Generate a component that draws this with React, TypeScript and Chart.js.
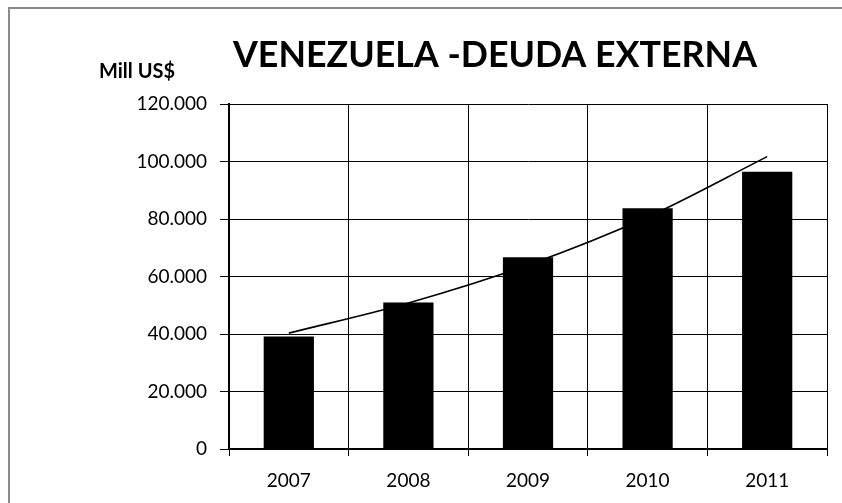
import React, { useEffect, useRef } from "react";
import { Chart, registerables } from "chart.js";

Chart.register(...registerables);

const years = ["2007", "2008", "2009", "2010", "2011"];
const debtValues = [39100, 51000, 66700, 83700, 96400];
const trendValues = [40300, 50800, 64000, 80700, 101700];
const yTicks = [0, 20000, 40000, 60000, 80000, 100000, 120000];
const titleText = "VENEZUELA -DEUDA EXTERNA";
const unitText = "Mill US$";

const fmt = (v: number) =>
  String(Math.round(v)).replace(/\B(?=(\d{3})+(?!\d))/g, ".");

const textPlugin = {
  id: "textPlugin",
  afterDraw(chart: any) {
    const ctx = chart.ctx;
    ctx.save();
    ctx.fillStyle = "#000";
    ctx.textBaseline = "alphabetic";
    ctx.font = "bold 36px Lato";
    ctx.textAlign = "center";
    ctx.fillText(titleText, 485, 57, 524);
    ctx.font = "bold 20px Lato";
    ctx.textAlign = "left";
    ctx.fillText(unitText, 89, 68);
    ctx.restore();
  },
};

export default function App() {
  const ref = useRef<HTMLCanvasElement>(null);
  useEffect(() => {
    document.body.style.overflow = "hidden";
    document.documentElement.style.overflow = "hidden";
    if (!ref.current) return;
    const chart = new Chart(ref.current, {
      type: "bar",
      data: {
        labels: years,
        datasets: [
          {
            type: "line",
            data: trendValues,
            borderColor: "#000",
            borderWidth: 1.6,
            pointRadius: 0,
            fill: false,
            cubicInterpolationMode: "monotone",
            order: 1,
          } as any,
          {
            type: "bar",
            data: debtValues,
            backgroundColor: "#000",
            borderWidth: 0,
            barPercentage: 0.42,
            categoryPercentage: 1,
            order: 2,
          },
        ],
      },
      options: {
        responsive: false,
        animation: false,
        layout: { padding: { top: 94, right: 7, left: 0, bottom: 0 } },
        plugins: {
          legend: { display: false },
          title: { display: false },
          tooltip: { enabled: false },
        },
        scales: {
          x: {
            offset: true,
            grid: {
              offset: true,
              color: "#000",
              lineWidth: 1,
              drawTicks: true,
              tickLength: 7,
            },
            border: { color: "#000", width: 2 },
            ticks: {
              color: "#000",
              font: { family: "Lato", size: 19 },
              padding: 13,
              maxRotation: 0,
            },
            afterFit(scale: any) {
              scale.height = 54;
            },
          },
          y: {
            min: 0,
            max: 120000,
            afterBuildTicks(scale: any) {
              scale.ticks = yTicks.map((v) => ({ value: v }));
            },
            grid: {
              color: "#000",
              lineWidth: 1,
              drawTicks: true,
              tickLength: 9,
            },
            border: { color: "#000", width: 2 },
            ticks: {
              color: "#000",
              font: { family: "Lato", size: 19 },
              padding: 13,
              callback: (v: any) => fmt(Number(v)),
            },
            afterFit(scale: any) {
              scale.width = 219;
            },
          },
        },
      },
      plugins: [textPlugin],
    });
    return () => chart.destroy();
  }, []);
  return (
    <div
      style={{
        position: "fixed",
        left: 8,
        top: 7,
        width: 840,
        height: 500,
        overflow: "hidden",
        borderTop: "2px solid #8a8a8a",
        borderLeft: "2px solid #8a8a8a",
        boxSizing: "border-box",
        background: "#fff",
      }}
    >
      <canvas ref={ref} width={824} height={493} style={{ display: "block", marginTop: 1 }} />
    </div>
  );
}
